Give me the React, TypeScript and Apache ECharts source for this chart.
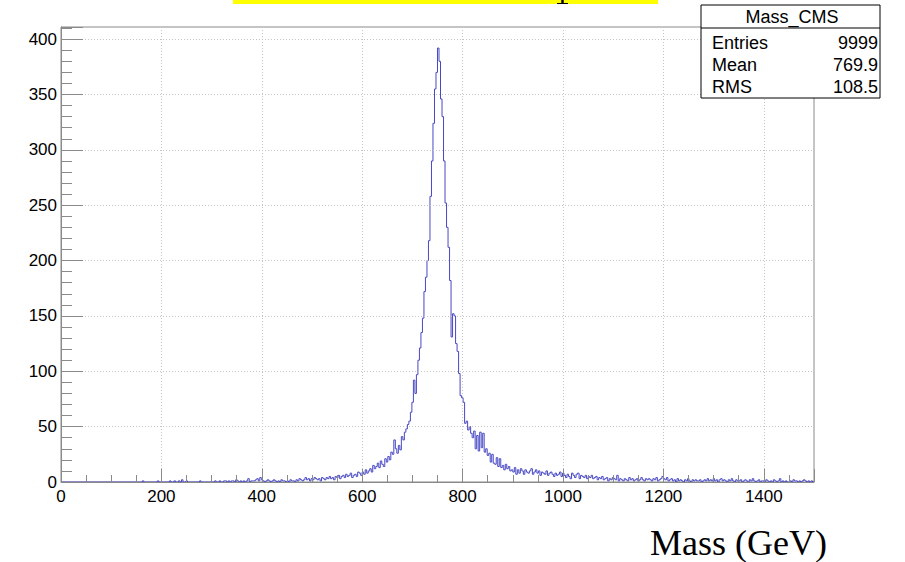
import React, { useEffect, useRef } from 'react';
import * as echarts from 'echarts';

// Histogram: 500 bins of 3 GeV from 0 to 1500 GeV
const BIN_WIDTH = 3;
const countsLowEmpty = new Array(50).fill(0); // 0 - 150 GeV (empty)
const counts150to300 = [0,0,0,0,1,0,0,0,0,0, 0,0,0,0,1,0,0,0,0,0, 0,0,1,0,0,1,0,0,1,0, 2,0,0,1,0,0,0,0,0,0, 0,0,1,0,0,0,0,0,0,0];
const counts300to450 = [0,0,1,0,0,1,0,0,1,1, 0,1,0,1,1,0,2,1,0,1, 0,1,0,1,3,0,1,1,1,2, 3,1,4,2,1,0,1,2,1,0, 1,2,1,0,1,0,2,1,1,0];
const counts450to600 = [1,0,2,1,1,0,2,1,3,2, 1,2,4,2,3,1,3,2,4,3, 2,3,1,4,3,2,4,3,5,3, 4,2,5,4,6,3,5,6,4,7, 5,6,8,4,6,7,5,9,8,6];
const counts600to750 = [9,7,11,8,10,12,9,15,12,14, 17,13,19,16,14,21,18,23,20,27, 25,38,30,26,33,29,41,38,45,48, 52,55,63,72,92,80,97,110,121,135, 148,172,185,200,218,258,290,324,355,370];
const counts750to900 = [392,380,346,330,290,252,230,212,182,131, 152,150,125,118,98,78,76,72,53,55, 47,50,44,40,46,30,42,28,45,31, 44,27,30,24,26,18,25,17,16,22, 14,21,13,15,11,16,12,14,10,11];
const counts900to1050 = [9,13,7,11,8,12,10,7,11,9, 8,10,12,7,9,11,8,10,6,9, 8,7,10,6,8,9,7,5,8,6, 7,9,5,8,6,4,7,5,3,8, 6,4,7,8,3,6,5,4,6,3];
const counts1050to1200 = [5,4,6,3,4,5,2,4,3,5, 2,3,4,1,3,2,4,3,2,6, 1,3,2,1,3,2,1,4,2,3, 1,2,3,1,2,4,2,1,3,2, 3,2,1,3,2,4,1,2,3,5];
const counts1200to1350 = [3,2,4,1,2,3,1,2,0,3, 1,2,1,0,2,1,3,1,0,2, 1,2,1,1,2,0,1,2,1,3, 1,2,1,3,1,2,0,2,3,1, 2,1,0,2,1,3,1,0,2,1];
const counts1350to1500 = [1,2,0,1,2,1,0,2,1,3, 1,0,1,2,0,1,1,0,2,1, 0,1,0,2,1,0,1,3,0,1, 0,1,0,0,1,0,2,1,1,0, 1,0,1,2,1,0,1,0,1,0];

const xTickLabels = [0, 200, 400, 600, 800, 1000, 1200, 1400];
const yTickLabels = [0, 50, 100, 150, 200, 250, 300, 350, 400];
const X_MAX = 1500;
const Y_MAX = 411;

const statsTitle = 'Mass_CMS';
const statsNames = ['Entries', 'Mean', 'RMS'];
const statsValues = ['9999', '769.9', '108.5'];
const xAxisTitle = 'Mass (GeV)';

export default function App() {
  const ref = useRef<HTMLDivElement>(null);
  useEffect(() => {
    const chart = echarts.init(ref.current!, null, { renderer: 'svg' });
    const counts = [
      ...countsLowEmpty, ...counts150to300, ...counts300to450, ...counts450to600,
      ...counts600to750, ...counts750to900, ...counts900to1050, ...counts1050to1200,
      ...counts1200to1350, ...counts1350to1500,
    ];
    const data: number[][] = counts.map((c, i) => [i * BIN_WIDTH, c]);
    data.push([X_MAX, counts[counts.length - 1]]);

    const labelFont = { color: '#000', fontSize: 17, fontFamily: 'Liberation Sans, Arial, sans-serif' };
    const axisGray = '#8a8a8a';

    const statsRowY = [43, 65, 87];
    const statsGraphics: any[] = [];
    statsNames.forEach((n, i) => {
      statsGraphics.push({
        type: 'text', x: 712, y: statsRowY[i],
        style: { text: n, fill: '#000', font: '18px "Liberation Sans", Arial, sans-serif', textAlign: 'left', textVerticalAlign: 'middle' },
      });
      statsGraphics.push({
        type: 'text', x: 878, y: statsRowY[i],
        style: { text: statsValues[i], fill: '#000', font: '18px "Liberation Sans", Arial, sans-serif', textAlign: 'right', textVerticalAlign: 'middle' },
      });
    });

    chart.setOption({
      animation: false,
      backgroundColor: '#ffffff',
      grid: {
        left: 61, right: 91, top: 27, bottom: 80,
        show: true, borderColor: axisGray, borderWidth: 1, backgroundColor: 'transparent',
      },
      xAxis: [
        {
          type: 'value', min: 0, max: X_MAX, interval: 200, position: 'bottom', z: 5,
          axisLine: { show: true, onZero: false, lineStyle: { color: axisGray, width: 1 } },
          axisTick: { show: true, inside: true, length: 13, lineStyle: { color: axisGray, width: 1 } },
          axisLabel: {
            ...labelFont, margin: 6,
            formatter: (v: number) => (xTickLabels.includes(v) ? String(v) : ''),
          },
          splitLine: { show: true, lineStyle: { color: '#c4c4c4', width: 1, type: [1, 2] } },
          minorTick: { show: false },
        },
        {
          type: 'value', min: 0, max: X_MAX, interval: 50, position: 'bottom', gridIndex: 0, z: 5,
          axisLine: { show: false },
          axisTick: { show: true, inside: true, length: 7, lineStyle: { color: axisGray, width: 1 } },
          axisLabel: { show: false },
          splitLine: { show: false },
        },
      ],
      yAxis: [
        {
          type: 'value', min: 0, max: Y_MAX, interval: 50, position: 'left', z: 5,
          axisLine: { show: true, onZero: false, lineStyle: { color: axisGray, width: 1 } },
          axisTick: { show: true, inside: true, length: 22, lineStyle: { color: axisGray, width: 1 } },
          axisLabel: {
            ...labelFont, margin: 4,
            formatter: (v: number) => (yTickLabels.includes(v) ? String(v) : ''),
          },
          splitLine: { show: true, lineStyle: { color: '#c4c4c4', width: 1, type: [1, 2] } },
        },
        {
          type: 'value', min: 0, max: Y_MAX, interval: 10, position: 'left', gridIndex: 0, z: 5,
          axisLine: { show: false },
          axisTick: { show: true, inside: true, length: 11, lineStyle: { color: axisGray, width: 1 } },
          axisLabel: { show: false },
          splitLine: { show: false },
        },
      ],
      series: [
        {
          type: 'line', xAxisIndex: 0, yAxisIndex: 0, data, step: 'end',
          symbol: 'none', showSymbol: false, z: 2,
          lineStyle: { color: '#4848c4', width: 1 },
        },
      ],
      graphic: [
        { type: 'rect', shape: { x: 233, y: 0, width: 425, height: 4 }, style: { fill: '#ffff00' }, z: 10 },
        { type: 'line', shape: { x1: 562.5, y1: 0, x2: 562.5, y2: 3.5 }, style: { stroke: '#000', lineWidth: 2.5 }, z: 11 },
        { type: 'line', shape: { x1: 557, y1: 3.5, x2: 568, y2: 3.5 }, style: { stroke: '#000', lineWidth: 1 }, z: 11 },
        { type: 'rect', shape: { x: 701, y: 5, width: 179, height: 93 }, style: { fill: '#fff', stroke: '#000', lineWidth: 1 }, z: 10 },
        { type: 'line', shape: { x1: 701, y1: 28, x2: 880, y2: 28 }, style: { stroke: '#000', lineWidth: 1 }, z: 11 },
        {
          type: 'text', x: 792, y: 17, z: 11,
          style: { text: statsTitle, fill: '#000', font: '18px "Liberation Sans", Arial, sans-serif', textAlign: 'center', textVerticalAlign: 'middle' },
        },
        ...statsGraphics.map((g) => ({ ...g, z: 11 })),
        {
          type: 'text', x: 650, y: 543, z: 11,
          style: { text: xAxisTitle, fill: '#000', font: '36px "Liberation Serif", "Times New Roman", serif', textAlign: 'left', textVerticalAlign: 'middle' },
        },
      ],
    });
    return () => chart.dispose();
  }, []);
  return <div ref={ref} style={{ position: 'absolute', left: 0, top: 0, width: 905, height: 562 }} />;
}
